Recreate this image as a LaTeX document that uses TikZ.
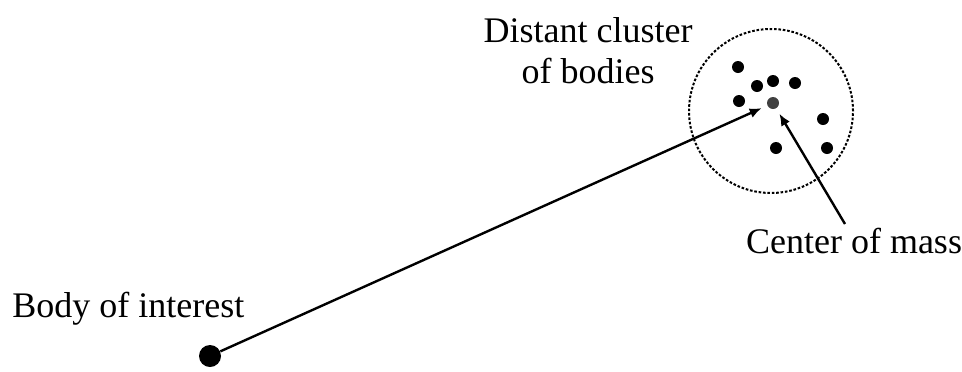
\documentclass[tikz,border=0pt]{standalone}
\usepackage{fontspec}
\setmainfont{Liberation Serif}
\usetikzlibrary{arrows.meta}
\begin{document}
\begin{tikzpicture}[x=0.5pt,y=-0.5pt,
		dot/.style={circle,fill=black,inner sep=0pt,minimum size=6pt},
		lbl/.style={font=\fontsize{18}{20.5}\selectfont,align=center,inner sep=0pt},
		pointer/.style={-{Latex[length=6pt,width=5pt]},line width=1.2pt,shorten >=3pt}]
		\useasboundingbox (0,0) rectangle (962,371);
		\node[draw,circle,line width=1pt,dash pattern=on 1.3pt off 0.9pt,minimum size=82pt,inner sep=0pt] (cluster) at (771,111) {};
		\node[dot] (b1) at (738,67) {};
		\node[dot] (b2) at (757,86) {};
		\node[dot] (b3) at (773,81) {};
		\node[dot] (b4) at (795,83) {};
		\node[dot] (b5) at (739,101) {};
		\node[dot] (b6) at (823,119) {};
		\node[dot] (b7) at (776,148) {};
		\node[dot] (b8) at (827,148) {};
		\node[dot,fill=black!75] (com) at (773,103) {};
		\node[circle,fill=black,inner sep=0pt,minimum size=11pt] (body) at (210,356) {};
		\node[lbl] (clusterlabel) at (588,51) {Distant cluster\\of bodies};
		\node[lbl,anchor=base west] (bodylabel) at (12,317) {Body of interest};
		\node[lbl,anchor=base] (comlabel) at (854,253) {Center of mass};
		\coordinate (comtail) at (845,224);
		\draw[pointer] (body) -- (com);
		\draw[pointer] (comtail) -- (com);
	\end{tikzpicture}
\end{document}
